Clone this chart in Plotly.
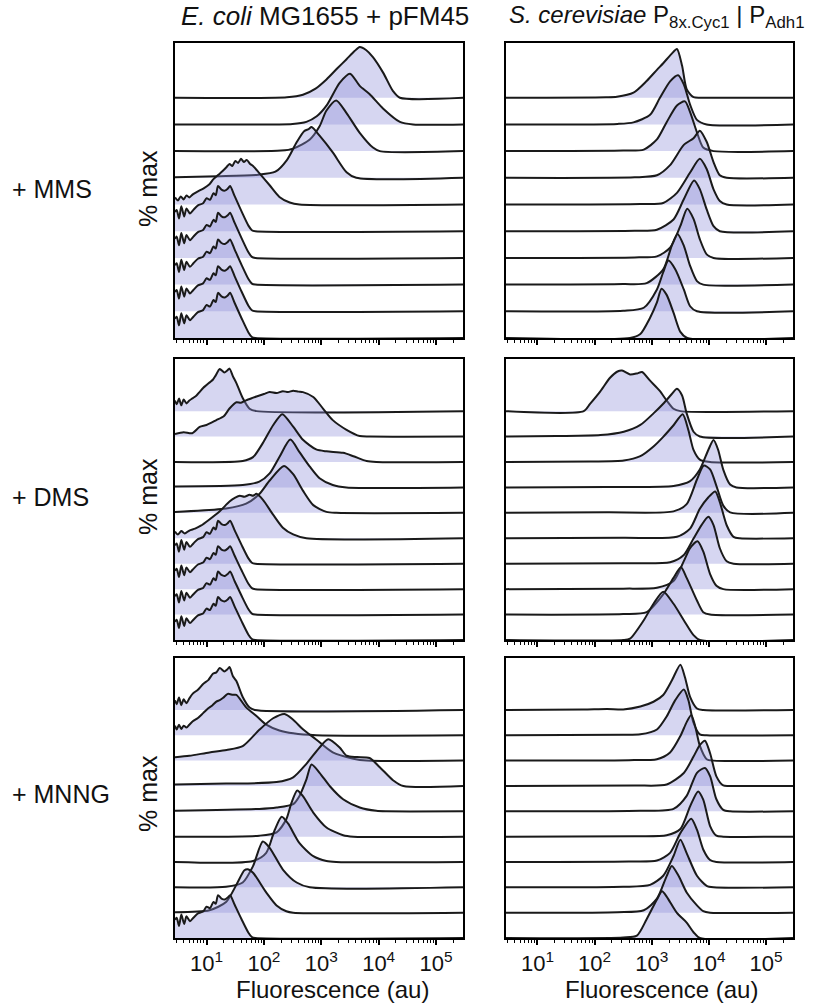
import math
import plotly.graph_objects as go

W, H = 816, 1005
AMP = 1.9          # height of 100 % max, in ridge spacings
YTOP = 11.05
XR = [0.45, 5.47]  # log10 range of fluorescence axis

# ---------- data: each curve = log10(fluorescence) points and % max values ----------
# basal (untreated) E. coli MG1655 + pFM45 histogram
BASAL_X = [0.45, 0.48, 0.52, 0.56, 0.61, 0.65, 0.71, 0.77, 0.85, 0.94, 1.00, 1.06, 1.12, 1.16,
           1.20, 1.26, 1.32, 1.37, 1.41, 1.49, 1.61, 1.73, 1.79, 1.85, 5.47]
BASAL_Y = [38, 42, 25, 49, 29, 45, 35, 42, 51, 55, 65, 62, 75, 71,
           89, 82, 80, 84, 89, 69, 39, 11, 2, 0, 0]

ECOLI_MMS_X = [
    [0.45, 2.40, 2.68, 2.90, 3.09, 3.28, 3.44, 3.58, 3.67, 3.78, 3.90, 4.08, 4.25, 4.37, 5.47],
    [0.45, 2.50, 2.74, 2.92, 3.09, 3.32, 3.50, 3.67, 3.84, 4.08, 4.37, 4.60, 5.47],
    [0.45, 2.30, 2.51, 2.80, 2.97, 3.09, 3.26, 3.44, 3.67, 3.90, 4.02, 5.47],
    [0.45, 1.20, 1.90, 2.20, 2.40, 2.57, 2.70, 2.78, 2.83, 2.97, 3.20, 3.44, 3.61, 5.47],
    [0.45, 0.50, 0.55, 0.60, 0.65, 0.70, 0.76, 0.85, 0.95, 1.05, 1.12, 1.20, 1.28, 1.35, 1.40,
     1.45, 1.50, 1.55, 1.60, 1.65, 1.70, 1.76, 1.81, 1.92, 2.10, 2.27, 2.45, 2.62, 5.47],
    BASAL_X, BASAL_X, BASAL_X, BASAL_X, BASAL_X,
]
ECOLI_MMS_Y = [
    [0, 1, 6, 18, 36, 58, 76, 92, 100, 94, 80, 49, 13, 0, 0],
    [0, 1, 5, 16, 37, 82, 100, 76, 60, 31, 5, 0, 0],
    [0, 1, 5, 23, 49, 80, 100, 75, 36, 7, 0, 0],
    [1, 3, 6, 12, 35, 70, 92, 96, 100, 83, 50, 11, 0, 0],
    [14, 8, 16, 10, 18, 14, 20, 26, 32, 40, 50, 58, 66, 74, 80,
     76, 86, 82, 90, 84, 88, 80, 76, 62, 38, 15, 4, 0, 0],
    BASAL_Y, BASAL_Y, BASAL_Y, BASAL_Y, BASAL_Y,
]

ECOLI_DMS_X = [
    [0.45, 0.48, 0.52, 0.56, 0.60, 0.65, 0.70, 0.76, 0.82, 0.88, 0.94, 1.00, 1.06, 1.11, 1.16,
     1.23, 1.31, 1.36, 1.40, 1.46, 1.52, 1.63, 1.75, 1.87, 5.47],
    [0.45, 0.60, 0.75, 0.88, 1.00, 1.17, 1.30, 1.40, 1.52, 1.60, 1.69, 1.80, 1.87, 2.00, 2.10,
     2.22, 2.33, 2.42, 2.51, 2.60, 2.68, 2.86, 3.03, 3.20, 3.44, 3.67, 3.84, 5.47],
    [0.45, 1.63, 1.81, 1.98, 2.16, 2.32, 2.51, 2.68, 2.91, 3.09, 3.38, 3.56, 3.79, 3.96, 5.47],
    [0.45, 1.63, 1.92, 2.10, 2.27, 2.46, 2.62, 2.80, 2.97, 3.20, 3.44, 5.47],
    [0.45, 1.34, 1.69, 1.92, 2.10, 2.35, 2.51, 2.68, 2.86, 3.09, 3.26, 5.47],
    [0.45, 0.50, 0.56, 0.62, 0.70, 0.80, 0.90, 1.05, 1.23, 1.40, 1.50, 1.58, 1.66, 1.75, 1.81,
     1.87, 1.98, 2.16, 2.33, 2.51, 2.74, 5.47],
    BASAL_X, BASAL_X, BASAL_X, BASAL_X,
]
ECOLI_DMS_Y = [
    [22, 14, 26, 12, 24, 16, 22, 27, 32, 40, 48, 54, 60, 65, 74,
     87, 80, 84, 88, 72, 58, 27, 5, 0, 0],
    [5, 9, 7, 20, 24, 34, 42, 58, 71, 70, 75, 80, 83, 88, 92,
     90, 94, 92, 95, 93, 92, 82, 58, 34, 14, 1, 0, 0],
    [0, 2, 10, 39, 76, 99, 73, 46, 26, 22, 19, 12, 2, 0, 0],
    [2, 5, 12, 29, 63, 99, 73, 43, 19, 5, 0, 0],
    [2, 9, 19, 39, 67, 97, 80, 46, 16, 2, 0, 0],
    [14, 8, 15, 10, 16, 20, 26, 39, 56, 76, 84, 88, 86, 90, 88,
     92, 80, 49, 22, 8, 0, 0],
    BASAL_Y, BASAL_Y, BASAL_Y, BASAL_Y,
]

ECOLI_MNNG_X = [
    [0.45, 0.48, 0.52, 0.56, 0.60, 0.65, 0.70, 0.76, 0.85, 0.94, 1.03, 1.11, 1.17,
     1.23, 1.31, 1.36, 1.40, 1.46, 1.52, 1.63, 1.75, 1.84, 5.47],
    [0.45, 0.48, 0.52, 0.56, 0.60, 0.65, 0.70, 0.76, 0.85, 0.94, 1.03, 1.10, 1.17, 1.23,
     1.29, 1.37, 1.46, 1.52, 1.69, 1.87, 2.04, 2.27, 2.51, 2.91, 5.47],
    [0.45, 0.70, 1.05, 1.35, 1.63, 1.92, 2.16, 2.36, 2.51, 2.68, 2.91, 3.20, 3.56, 3.79, 5.47],
    [0.45, 1.34, 2.22, 2.51, 2.74, 2.97, 3.12, 3.32, 3.44, 3.62, 3.84, 4.02, 4.25, 4.43, 5.47],
    [0.45, 1.92, 2.22, 2.51, 2.62, 2.74, 2.83, 2.97, 3.15, 3.38, 3.67, 3.96, 4.13, 5.47],
    [0.45, 1.92, 2.22, 2.39, 2.48, 2.58, 2.68, 2.86, 3.09, 3.38, 3.56, 5.47],
    [0.45, 1.81, 2.04, 2.19, 2.31, 2.42, 2.62, 2.86, 3.09, 3.26, 5.47],
    [0.45, 1.34, 1.63, 1.81, 1.98, 2.10, 2.33, 2.57, 2.80, 5.47],
    [0.45, 1.05, 1.34, 1.52, 1.66, 1.72, 1.81, 2.04, 2.22, 2.39, 2.51, 5.47],
    BASAL_X,
]
ECOLI_MNNG_Y = [
    [20, 12, 26, 10, 22, 14, 24, 34, 42, 54, 62, 75, 78,
     87, 80, 84, 89, 70, 60, 27, 5, 0, 0],
    [20, 12, 22, 13, 20, 16, 22, 29, 36, 46, 56, 62, 70, 73,
     78, 86, 84, 84, 58, 40, 22, 10, 4, 0, 0],
    [7, 10, 17, 22, 30, 64, 88, 97, 85, 65, 44, 17, 4, 0, 0],
    [3, 5, 8, 18, 46, 80, 97, 80, 63, 60, 58, 39, 12, 0, 0],
    [1, 5, 8, 15, 32, 66, 97, 80, 52, 25, 8, 1, 0, 0],
    [0, 2, 9, 36, 70, 96, 84, 50, 19, 3, 0, 0],
    [0, 2, 19, 67, 94, 80, 39, 12, 2, 0, 0],
    [0, 1, 10, 44, 95, 82, 37, 10, 0, 0],
    [1, 5, 22, 58, 88, 90, 83, 42, 15, 3, 0, 0],
    BASAL_Y,
]

YEAST_MMS_X = [
    [0.45, 2.20, 2.39, 2.68, 2.91, 3.09, 3.20, 3.35, 3.44, 3.53, 3.61, 3.73, 3.90, 5.47],
    [0.45, 2.40, 2.68, 2.97, 3.14, 3.32, 3.46, 3.56, 3.67, 3.79, 3.96, 5.47],
    [0.45, 2.50, 2.86, 3.09, 3.26, 3.44, 3.58, 3.67, 3.79, 3.90, 4.08, 5.47],
    [0.45, 2.70, 3.09, 3.32, 3.56, 3.73, 3.84, 3.96, 4.08, 4.19, 4.31, 5.47],
    [0.45, 2.80, 3.20, 3.44, 3.67, 3.84, 3.96, 4.08, 4.19, 4.31, 5.47],
    [0.45, 2.70, 3.09, 3.38, 3.56, 3.74, 3.84, 3.96, 4.08, 4.19, 5.47],
    [0.45, 2.70, 3.09, 3.32, 3.50, 3.62, 3.73, 3.84, 3.96, 4.08, 5.47],
    [0.45, 2.50, 2.91, 3.20, 3.35, 3.45, 3.56, 3.67, 3.79, 3.90, 5.47],
    [0.45, 2.50, 2.86, 3.09, 3.20, 3.29, 3.41, 3.56, 3.67, 3.79, 5.47],
    [0.45, 2.62, 2.80, 2.97, 3.09, 3.17, 3.26, 3.38, 3.50, 3.62, 5.47],
]
YEAST_MMS_Y = [
    [0, 1, 2, 10, 33, 55, 68, 87, 96, 63, 17, 1, 0, 0],
    [0, 1, 4, 19, 52, 85, 97, 79, 39, 9, 0, 0],
    [0, 1, 3, 23, 57, 90, 98, 77, 37, 7, 0, 0],
    [0, 1, 5, 25, 65, 78, 93, 71, 31, 5, 0, 0],
    [0, 1, 3, 23, 63, 90, 70, 30, 7, 0, 0],
    [0, 1, 3, 23, 63, 100, 83, 43, 10, 0, 0],
    [0, 1, 3, 20, 63, 97, 77, 37, 7, 0, 0],
    [0, 1, 3, 30, 77, 100, 77, 37, 7, 0, 0],
    [0, 1, 7, 43, 77, 100, 83, 43, 10, 0, 0],
    [0, 0, 8, 40, 70, 97, 85, 50, 12, 0, 0],
]

YEAST_DMS_X = [
    [0.45, 1.81, 1.92, 2.10, 2.27, 2.40, 2.48, 2.62, 2.74, 2.83, 2.97, 3.14, 3.26, 3.38, 3.50, 5.47],
    [0.45, 1.34, 2.10, 2.51, 2.80, 3.03, 3.20, 3.35, 3.44, 3.53, 3.61, 3.73, 3.84, 5.47],
    [0.45, 1.92, 2.51, 2.80, 3.03, 3.20, 3.38, 3.54, 3.64, 3.73, 3.84, 4.02, 5.47],
    [0.45, 2.22, 3.38, 3.67, 3.84, 3.99, 4.08, 4.16, 4.25, 4.37, 4.48, 5.47],
    [0.45, 2.22, 3.38, 3.61, 3.79, 3.91, 4.02, 4.13, 4.25, 4.37, 5.47],
    [0.45, 2.50, 3.44, 3.67, 3.84, 3.99, 4.11, 4.19, 4.31, 4.43, 4.54, 5.47],
    [0.45, 2.50, 3.32, 3.56, 3.73, 3.87, 3.99, 4.08, 4.19, 4.31, 4.43, 5.47],
    [0.45, 2.50, 3.09, 3.38, 3.56, 3.67, 3.80, 3.90, 4.02, 4.13, 4.25, 5.47],
    [0.45, 2.50, 2.91, 3.20, 3.38, 3.51, 3.61, 3.79, 3.90, 4.02, 5.47],
    [0.45, 2.50, 2.62, 2.86, 3.03, 3.20, 3.38, 3.56, 3.73, 3.84, 5.47],
]
YEAST_DMS_Y = [
    [0, 0, 15, 41, 69, 82, 84, 76, 78, 81, 63, 42, 22, 5, 0, 0],
    [0, 1, 3, 10, 24, 48, 68, 88, 99, 85, 48, 10, 0, 0],
    [0, 1, 3, 12, 32, 52, 76, 99, 66, 25, 5, 0, 0],
    [0, 1, 3, 13, 37, 78, 98, 78, 37, 6, 0, 0],
    [0, 1, 3, 18, 69, 98, 90, 56, 15, 1, 0],
    [0, 1, 3, 20, 61, 85, 97, 75, 27, 3, 0, 0],
    [0, 1, 3, 18, 52, 80, 97, 80, 32, 5, 0, 0],
    [0, 1, 3, 17, 58, 85, 99, 78, 31, 7, 0, 0],
    [0, 1, 5, 42, 76, 98, 76, 29, 5, 0, 0],
    [0, 0, 3, 41, 75, 100, 75, 41, 10, 0, 0],
]

YEAST_MNNG_X = [
    [0.45, 1.80, 2.22, 2.50, 2.80, 3.03, 3.20, 3.35, 3.50, 3.58, 3.67, 3.79, 3.90, 5.47],
    [0.45, 2.50, 2.80, 3.09, 3.26, 3.41, 3.56, 3.64, 3.73, 3.84, 3.96, 5.47],
    [0.45, 2.60, 3.09, 3.32, 3.50, 3.61, 3.69, 3.76, 3.84, 3.96, 4.08, 5.47],
    [0.45, 2.70, 3.26, 3.56, 3.73, 3.84, 3.93, 4.02, 4.13, 4.25, 4.37, 5.47],
    [0.45, 2.80, 3.38, 3.61, 3.79, 3.93, 4.02, 4.13, 4.25, 4.37, 5.47],
    [0.45, 2.70, 3.26, 3.50, 3.67, 3.81, 3.90, 4.02, 4.13, 4.25, 5.47],
    [0.45, 2.60, 3.09, 3.32, 3.50, 3.69, 3.79, 3.90, 4.02, 4.13, 5.47],
    [0.45, 2.50, 2.97, 3.20, 3.38, 3.50, 3.61, 3.79, 3.96, 4.08, 5.47],
    [0.45, 2.40, 2.86, 3.09, 3.26, 3.35, 3.47, 3.61, 3.79, 3.90, 4.02, 5.47],
    [0.45, 2.50, 2.74, 2.91, 3.09, 3.18, 3.26, 3.44, 3.61, 3.73, 3.84, 5.47],
]
YEAST_MNNG_Y = [
    [0, 1, 2, 1, 7, 17, 31, 61, 94, 68, 27, 3, 0, 0],
    [0, 1, 2, 12, 39, 73, 95, 73, 26, 2, 0, 0],
    [0, 1, 3, 17, 51, 80, 95, 71, 31, 3, 0, 0],
    [0, 1, 3, 27, 61, 85, 94, 68, 20, 1, 0, 0],
    [0, 1, 5, 32, 80, 90, 73, 25, 3, 0, 0],
    [0, 1, 3, 16, 63, 94, 77, 22, 2, 0, 0],
    [0, 1, 3, 19, 60, 90, 67, 26, 4, 0, 0],
    [0, 1, 5, 24, 65, 99, 71, 24, 3, 0, 0],
    [0, 1, 5, 29, 76, 97, 76, 42, 15, 3, 0, 0],
    [0, 1, 5, 39, 80, 97, 86, 52, 32, 12, 0, 0],
]

TREATMENTS = ["+ MMS", "+ DMS", "+ MNNG"]
COL_TITLES = ["<i>E. coli</i> MG1655 + pFM45",
              "<i>S. cerevisiae</i> P<sub>8x.Cyc1</sub> | P<sub>Adh1</sub>"]
MAJOR_TICKS = [10, 100, 1000, 10000, 100000]
MAJOR_TEXT = ["10<sup>1</sup>", "10<sup>2</sup>", "10<sup>3</sup>", "10<sup>4</sup>", "10<sup>5</sup>"]
XLABEL = "Fluorescence (au)"
YLABEL = "% max"

# ---------- layout geometry (pixels) ----------
FONT = "Liberation Sans, Arial, Helvetica, sans-serif"
COL_PX = [(175, 463), (506, 793)]
ROW_PX = [(43, 338), (359, 640), (658, 938)]

def px_x(v):
    return v / W

def px_y(v):
    return 1 - v / H

PANELS = [
    (0, 0, ECOLI_MMS_X, ECOLI_MMS_Y), (0, 1, YEAST_MMS_X, YEAST_MMS_Y),
    (1, 0, ECOLI_DMS_X, ECOLI_DMS_Y), (1, 1, YEAST_DMS_X, YEAST_DMS_Y),
    (2, 0, ECOLI_MNNG_X, ECOLI_MNNG_Y), (2, 1, YEAST_MNNG_X, YEAST_MNNG_Y),
]

FILL = "rgba(140,140,215,0.36)"
LINE = "#1a1a1a"

minor_vals = [m * 10 ** d for d in range(0, 6) for m in range(2, 10)
              if XR[0] <= math.log10(m * 10 ** d) <= XR[1]]

fig = go.Figure()
layout = {}
for p, (r, c, XS, YS) in enumerate(PANELS):
    sfx = "" if p == 0 else str(p + 1)
    n = len(XS)
    for k in range(n):
        base = (n - 1) - k
        xs = [10 ** v for v in XS[k]]
        ys = [base + AMP * v / 100.0 for v in YS[k]]
        fig.add_trace(go.Scatter(x=[xs[0], xs[-1]], y=[base, base], mode="lines",
                                 line=dict(width=0, color="rgba(0,0,0,0)"),
                                 xaxis="x" + sfx, yaxis="y" + sfx,
                                 hoverinfo="skip", showlegend=False))
        fig.add_trace(go.Scatter(x=xs, y=ys, mode="lines",
                                 line=dict(color=LINE, width=2, shape="spline", smoothing=0.7),
                                 fill="tonexty", fillcolor=FILL,
                                 xaxis="x" + sfx, yaxis="y" + sfx,
                                 hoverinfo="skip", showlegend=False))
    layout["xaxis" + sfx] = dict(
        type="log", range=XR, domain=[px_x(COL_PX[c][0]), px_x(COL_PX[c][1])],
        anchor="y" + sfx, showline=True, linewidth=2, linecolor="black", mirror=True,
        ticks="outside", ticklen=5, tickwidth=1.5, tickcolor="black",
        tickmode="array", tickvals=MAJOR_TICKS, ticktext=MAJOR_TEXT,
        showticklabels=(r == 2), tickfont=dict(family=FONT, size=22, color="#111"),
        showgrid=False, zeroline=False, fixedrange=True,
        minor=dict(tickmode="array", tickvals=minor_vals, ticks="outside",
                   ticklen=3, tickwidth=1, tickcolor="black", showgrid=False),
    )
    layout["yaxis" + sfx] = dict(
        range=[0, YTOP], domain=[px_y(ROW_PX[r][1]), px_y(ROW_PX[r][0])],
        anchor="x" + sfx, showline=True, linewidth=2, linecolor="black", mirror=True,
        ticks="", showticklabels=False, showgrid=False, zeroline=False, fixedrange=True,
    )

ann = []
# column titles
ann.append(dict(text=COL_TITLES[0], x=px_x(325), y=px_y(16), xanchor="center", yanchor="middle",
                font=dict(family=FONT, size=26, color="#111")))
ann.append(dict(text=COL_TITLES[1], x=px_x(507), y=px_y(16), xanchor="left", yanchor="middle",
                font=dict(family=FONT, size=24, color="#111")))
# row labels and y labels
ROW_LABEL_Y = [189, 497, 794]
for r, lab in enumerate(TREATMENTS):
    ann.append(dict(text=lab, x=px_x(10), y=px_y(ROW_LABEL_Y[r]), xanchor="left", yanchor="middle",
                    font=dict(family=FONT, size=25, color="#111")))
    ann.append(dict(text=YLABEL, x=px_x(148), y=px_y(ROW_LABEL_Y[r]), xanchor="center", yanchor="middle",
                    textangle=-90, font=dict(family=FONT, size=25, color="#111")))
# x labels
for xc in (332, 661):
    ann.append(dict(text=XLABEL, x=px_x(xc), y=px_y(989), xanchor="center", yanchor="middle",
                    font=dict(family=FONT, size=24, color="#111")))
for a in ann:
    a.update(xref="paper", yref="paper", showarrow=False)

fig.update_layout(width=W, height=H, margin=dict(l=0, r=0, t=0, b=0),
                  paper_bgcolor="white", plot_bgcolor="white",
                  showlegend=False, annotations=ann, **layout)

fig.write_html("out.html", config={"displayModeBar": False},
               post_script="document.body.style.margin='0';document.body.style.overflow='hidden';")
